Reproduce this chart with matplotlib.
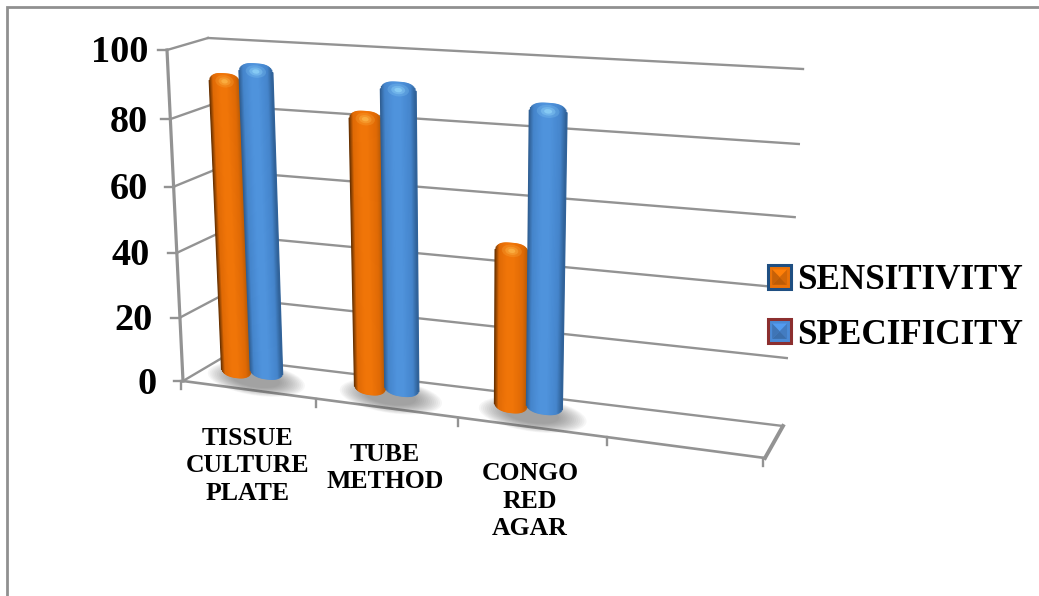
import numpy as np
import matplotlib
matplotlib.use("Agg")
import matplotlib.pyplot as plt
from matplotlib.transforms import Transform
from matplotlib.patches import Ellipse, Patch, Polygon, Rectangle
from matplotlib.legend_handler import HandlerBase

# ---------- data ----------
categories = ["TISSUE\nCULTURE\nPLATE", "TUBE\nMETHOD", "CONGO\nRED\nAGAR"]
sensitivity = [92, 84, 49.5]
specificity = [95.5, 93, 90]
series_names = ["SENSITIVITY", "SPECIFICITY"]
y_ticks = [0, 20, 40, 60, 80, 100]

# ---------- geometry / style ----------
W, H = 1039, 596
XMAX = 4.0
GREY = "#939393"
FONT = "Liberation Serif"


class Plane(Transform):
    """Projective map from (category position, value) to pixel coordinates."""
    input_dims = output_dims = 2
    is_affine = False
    has_inverse = False

    def __init__(self, bl, br, tl, tr):
        super().__init__()
        src = [(0, 0), (XMAX, 0), (0, 100), (XMAX, 100)]
        dst = [bl, br, tl, tr]
        A, b = [], []
        for (x, y), (u, v) in zip(src, dst):
            A.append([x, y, 1, 0, 0, 0, -u * x, -u * y]); b.append(u)
            A.append([0, 0, 0, x, y, 1, -v * x, -v * y]); b.append(v)
        self.m = np.append(np.linalg.solve(np.array(A, float), np.array(b, float)), 1).reshape(3, 3)

    def transform_non_affine(self, values):
        v = np.asarray(values, float)
        p = np.column_stack([v, np.ones(len(v))]) @ self.m.T
        return p[:, :2] / p[:, 2:3]


front_c = [(183, 381), (765, 458), (167, 50), (783, 96)]
back_c = [(222, 358), (783, 426), (208, 38), (803, 69)]
mid_c = [tuple((np.array(a) + np.array(b)) / 2) for a, b in zip(front_c, back_c)]
front, back, mid = Plane(*front_c), Plane(*back_c), Plane(*mid_c)

fig = plt.figure(figsize=(W / 100, H / 100), dpi=100)
ax = fig.add_axes([0, 0, 1, 1])
ax.set_xlim(0, W)
ax.set_ylim(H, 0)
ax.set_autoscale_on(False)
ax.axis("off")

to_front, to_back, to_mid = front + ax.transData, back + ax.transData, mid + ax.transData


def px(plane, x, y):
    return plane.transform(np.array([[x, y]], float))[0]


# outer frame
ax.plot([7, 7, W], [H, 7, 7], color="#909090", lw=2.0, solid_joinstyle="miter", zorder=1)

# back wall grid and side wall
label_right = [157, 153, 150, 148, 148, 148]
for v, rx in zip(y_ticks, label_right):
    ax.plot([0, XMAX], [v, v], transform=to_back, color=GREY, lw=1.7, zorder=2)
    a, b = px(front, 0, v), px(back, 0, v)
    ax.plot([a[0], b[0]], [a[1], b[1]], color=GREY, lw=1.7, zorder=2)
    # y tick and its label
    ax.plot([a[0] - 9, a[0]], [a[1], a[1]], color=GREY, lw=1.7, zorder=2)
    ax.text(rx, a[1] + 3, str(v), ha="right", va="center",
            family=FONT, weight="bold", fontsize=27.5, color="black")

# y axis and floor
ax.plot([0, 0], [0, 100], transform=to_front, color=GREY, lw=2.3, zorder=2)
ax.plot([0, XMAX], [0, 0], transform=to_front, color=GREY, lw=1.9, zorder=2)
a, b = px(front, XMAX, 0), px(back, XMAX, 0)
ax.plot([a[0], b[0]], [a[1], b[1]], color=GREY, lw=2.8, zorder=2)
for i in range(int(XMAX) + 1):
    t = px(front, i, 0)
    ax.plot([t[0] - 2, t[0] - 2], [t[1], t[1] + 8], color=GREY, lw=1.7, zorder=2)

# category labels
label_xy = [(248, 466), (385, 468), (530, 501)]
for lab, (lx, ly) in zip(categories, label_xy):
    ax.text(lx, ly, lab, ha="center", va="center", multialignment="center",
            family=FONT, weight="bold", fontsize=18.5, linespacing=1.27, color="black")


def shade(u, dark, base, light, right):
    """Colour across a cylinder, u in [-1, 1]."""
    stops = np.array([-1, -0.72, -0.25, 0.15, 0.7, 1])
    cols = np.array([matplotlib.colors.to_rgb(c) for c in (dark, base, light, light, base, right)])
    return [float(np.interp(u, stops, cols[:, k])) for k in range(3)]


ORANGE = ("#5a2b00", "#e06a05", "#f07508", "#b85a05")
BLUE = ("#2d5a8c", "#4585cc", "#4f93dc", "#2f5f94")
W_ORANGE, W_BLUE = 0.225, 0.245
OFFSET = 0.37
STRIPS = 32
TOP_CAP, BOT_CAP = 4.0, 3.0


def cylinder(x, value, width, base, palette, z):
    edges = np.linspace(-1, 1, STRIPS + 1)
    mids = (edges[1:] + edges[:-1]) / 2
    for u in mids:
        lo = base + BOT_CAP * (1 - (1 - abs(u) ** 2.4) ** (1 / 2.4))
        hi = value - TOP_CAP * (1 - (1 - abs(u) ** 3) ** (1 / 3))
        c = shade(u, *palette)
        ax.bar(x + u * width / 2, hi - lo, width / STRIPS, bottom=lo, color=c,
               edgecolor=c, linewidth=0.9, transform=to_mid, zorder=z)
    # light at the rounded top
    light = matplotlib.colors.to_rgb(palette[2])
    glow = [min(1, k + 0.3) for k in light]
    for f, al in [(1.0, 0.2), (0.65, 0.3), (0.35, 0.5)]:
        ax.add_patch(Ellipse((x, value - TOP_CAP * 0.55), width * 0.6 * f, TOP_CAP * 0.9 * f,
                             color=glow, alpha=al, lw=0, transform=to_mid, zorder=z + 0.1))


# floor shadows, then cylinders
for i in range(len(categories)):
    for f in np.linspace(1.0, 0.5, 14):
        ax.add_patch(Ellipse((i + OFFSET + 0.04, -1.0), 0.74 * f, 10.5 * f, color="#555555",
                             alpha=0.05, lw=0, transform=to_mid, zorder=3))
for i in range(len(categories)):
    cylinder(i + OFFSET - W_ORANGE / 2 + 0.004, sensitivity[i], W_ORANGE, -1.2, ORANGE, 4 + i)
    cylinder(i + OFFSET + W_BLUE / 2, specificity[i], W_BLUE, -0.4, BLUE, 4.5 + i)


class BevelKey(HandlerBase):
    def create_artists(self, legend, orig, xd, yd, width, height, fontsize, trans):
        x0, y0 = -xd, -yd
        out = Rectangle((x0, y0), width, height, facecolor=orig.get_facecolor(),
                        edgecolor=orig.get_edgecolor(), linewidth=2.2, transform=trans)
        fc = np.array(orig.get_facecolor()[:3])
        p = 3
        a, b, c, d = (x0 + p, y0 + p), (x0 + width - p, y0 + p), (x0 + width - p, y0 + height - p), (x0 + p, y0 + height - p)
        m = (x0 + width / 2, y0 + height / 2)
        arts = [out]
        for tri, k in [((a, b, m), 0.8), ((b, c, m), 0.9), ((c, d, m), 1.12), ((d, a, m), 0.85)]:
            arts.append(Polygon(tri, closed=True, facecolor=np.clip(fc * k, 0, 1), lw=0, transform=trans))
        return arts


handles = [Patch(facecolor="#ea7208", edgecolor="#1f4f82"),
           Patch(facecolor="#4a8ad6", edgecolor="#8c2f2f")]
ax.legend(handles, series_names, handler_map={Patch: BevelKey()}, loc="center left",
          bbox_to_anchor=(768 / W, 1 - 308 / H), frameon=False, borderpad=0, borderaxespad=0,
          prop={"family": FONT, "weight": "bold", "size": 25.3}, handlelength=0.66, handleheight=0.66,
          handletextpad=0.17, labelspacing=0.6, labelcolor="black")

fig.savefig("out.png", dpi=100, facecolor="white")
